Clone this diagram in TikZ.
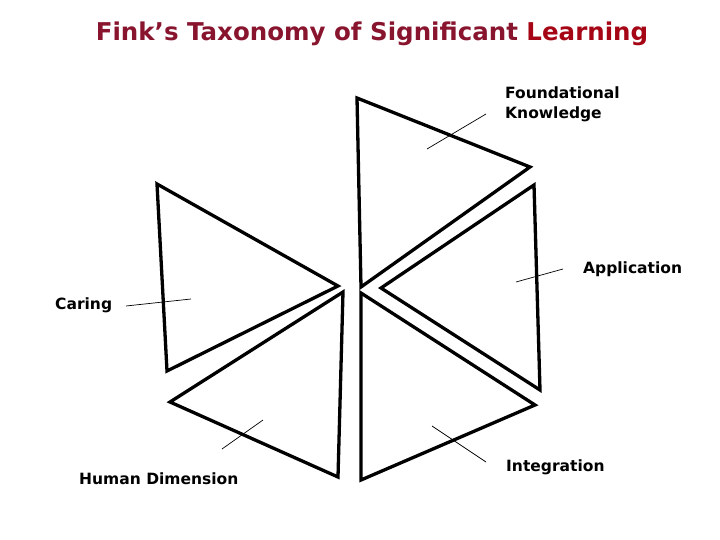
\documentclass[tikz,border=0pt]{standalone}
\usepackage{fontspec}
\setmainfont{DejaVu Sans}
\definecolor{titelrot}{RGB}{136,20,46}
\definecolor{lernrot}{RGB}{165,5,20}
\tikzset{
    dreieck/.style={line width=3.3pt, line join=miter},
    zeiger/.style={line width=0.7pt},
    etikett/.style={font=\fontsize{15.5}{20}\selectfont\bfseries, inner sep=0pt, anchor=base west}
}
\begin{document}
\begin{tikzpicture}[x=1pt, y=-1pt]
        \useasboundingbox (0, 0) rectangle (720, 540);
        % Titel
        \node[font=\fontsize{24.5}{28}\selectfont\bfseries, text=titelrot] (titel) at (372, 34)
            {Fink’s Taxonomy of Significant \textcolor{lernrot}{Learning}};
        % Dreiecke
        \draw[dreieck]
            (357   ,98) --
            (530   ,167) --
            (361   ,287) -- cycle;
        \draw[dreieck]
            (534   ,185) --
            (381   ,288) --
            (540   ,390) -- cycle;
        \draw[dreieck]
            (361   ,293) --
            (535   ,405) --
            (361   ,480) -- cycle;
        \draw[dreieck]
            (343   ,292) --
            (170   ,402) --
            (338   ,477) -- cycle;
        \draw[dreieck]
            (157   ,184) --
            (338   ,286) --
            (167   ,371) -- cycle;
        % Beschriftungen
        \node[etikett, anchor=north west, align=left] (fk) at (505, 87) {Foundational\\Knowledge};
        \node[etikett] (ap) at (583, 273) {Application};
        \node[etikett] (ca) at (55, 309) {Caring};
        \node[etikett] (hd) at (79, 484) {Human Dimension};
        \node[etikett] (in) at (506, 471) {Integration};
        % Zeiger
        \coordinate (fk1) at (427, 149);
        \coordinate (fk2) at (486, 114);
        \coordinate (ap1) at (516, 282);
        \coordinate (ap2) at (563, 269);
        \coordinate (ca1) at (126, 306);
        \coordinate (ca2) at (191, 299);
        \coordinate (hd1) at (222, 449);
        \coordinate (hd2) at (263, 420);
        \coordinate (in1) at (432, 426);
        \coordinate (in2) at (486, 462);
        \foreach \z in {fk, ap, ca, hd, in}
        {
            \draw[zeiger] (\z1) -- (\z2);
        }
\end{tikzpicture}
\end{document}
